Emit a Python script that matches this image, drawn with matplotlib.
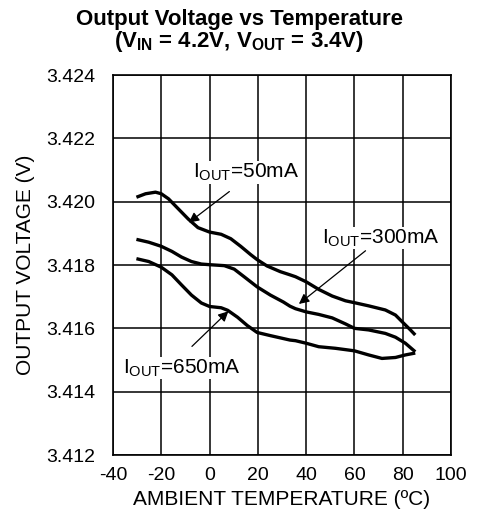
import matplotlib
matplotlib.use("Agg")
import matplotlib.pyplot as plt

plt.rcParams['font.family'] = ['Liberation Sans', 'DejaVu Sans']
plt.rcParams['mathtext.fontset'] = 'custom'
plt.rcParams['mathtext.rm'] = 'Liberation Sans'
plt.rcParams['mathtext.it'] = 'Liberation Sans:italic'
plt.rcParams['mathtext.bf'] = 'Liberation Sans:bold'

# Data
temp_50 = [-30.3, -26.5, -22.4, -20, -17, -12.9, -8.8, -4.8, 0, 4.8, 8.8, 12.9, 17, 19.7, 23.8, 29.3, 33.3,
           35.6, 40, 45.2, 50.8, 56.3, 60, 65.9, 72.8, 77, 80.4, 83.2, 85.2]
vout_50 = [3.42014, 3.42025, 3.4203, 3.42025, 3.42009, 3.41977, 3.41945, 3.41918, 3.41904, 3.41897, 3.41883,
           3.41859, 3.41833, 3.41817, 3.41797, 3.41779, 3.41769,
           3.41763, 3.41747, 3.41723, 3.41702, 3.41687, 3.41681, 3.41671, 3.41658, 3.41642, 3.41616, 3.41595, 3.41579]

temp_300 = [-30.3, -25.2, -20, -15.6, -11.6, -7.5, -3.4, 0, 6.1, 10.2, 14.3, 19.7, 25.2, 30.6, 33.3,
            35.6, 40, 45.2, 50.8, 56.3, 60, 65.9, 72.8, 77, 81.1, 85.2]
vout_300 = [3.41881, 3.41872, 3.41859, 3.41843, 3.41825, 3.41811, 3.41803, 3.41801, 3.41798, 3.41787, 3.41763,
            3.41731, 3.41705, 3.41683, 3.4167,
            3.41662, 3.41652, 3.41644, 3.41633, 3.41614, 3.416, 3.41595, 3.41584, 3.41572, 3.41553, 3.41526]

temp_650 = [-30.3, -25.2, -20, -15.6, -11.6, -7.5, -3.4, 0, 4.8, 7.5, 11.6, 15.6, 19.7, 25.2, 33.3,
            35.6, 40, 45.2, 52.1, 60, 65.9, 71.4, 77, 81.1, 85.2]
vout_650 = [3.4182, 3.41811, 3.41793, 3.41769, 3.41737, 3.41705, 3.4168, 3.41669, 3.41665, 3.41657, 3.41635,
            3.41609, 3.41587, 3.41577, 3.41563,
            3.41561, 3.41553, 3.41542, 3.41537, 3.41529, 3.41516, 3.41505, 3.41508, 3.41516, 3.41522]

xticks = [-40, -20, 0, 20, 40, 60, 80, 100]
yticks = [3.412, 3.414, 3.416, 3.418, 3.420, 3.422, 3.424]

fig = plt.figure(figsize=(4.78, 5.18), dpi=100)
ax = fig.add_axes([0.2364, 0.1216, 0.7071, 0.7336])

for t, v in [(temp_50, vout_50), (temp_300, vout_300), (temp_650, vout_650)]:
    ax.plot(t, v, color='black', linewidth=2.4, solid_capstyle='butt', solid_joinstyle='round', zorder=3)

ax.set_xlim(-40, 100)
ax.set_ylim(3.412, 3.424)
ax.set_xticks(xticks)
ax.set_yticks(yticks)
ax.set_xticklabels([str(x) for x in xticks])
ax.set_yticklabels(['%.3f' % y for y in yticks])
ax.tick_params(length=0, labelsize=14, pad=8.5)
ax.tick_params(axis='y', pad=13)
ax.grid(True, color='black', linewidth=1.1)
for s in ax.spines.values():
    s.set_linewidth(1.2)

ax.set_xlabel('AMBIENT TEMPERATURE (ºC)', fontsize=15, labelpad=4.5)
ax.set_ylabel('OUTPUT VOLTAGE (V)', fontsize=15, labelpad=8)

fig.text(0.501, 0.9517, 'Output Voltage vs Temperature', ha='center', va='baseline',
         fontsize=16, fontweight='bold')
fig.text(0.501, 0.909, r'(V$_{\mathbf{IN}}$ = 4.2V, V$_{\mathbf{OUT}}$ = 3.4V)', ha='center', va='baseline',
         fontsize=16, fontweight='bold')

arrow = dict(arrowstyle='-|>', color='black', lw=0.9, mutation_scale=15, shrinkA=0, shrinkB=0)
lbl = dict(fontsize=15, va='baseline', ha='left',
           bbox=dict(facecolor='white', edgecolor='none', pad=0.5))
ax.annotate('', xy=(-8.6, 3.41934), xytext=(8.2, 3.42032), arrowprops=arrow, zorder=4)
ax.text(-6.87, 3.42075, r'I$_{\mathrm{OUT}}$=50mA', zorder=5, **lbl)
ax.annotate('', xy=(37, 3.41677), xytext=(64.6, 3.41845), arrowprops=arrow, zorder=4)
ax.text(46.4, 3.41868, r'I$_{\mathrm{OUT}}$=300mA', zorder=5, **lbl)
ax.annotate('', xy=(7.8, 3.41654), xytext=(-7.3, 3.41543), arrowprops=arrow, zorder=4)
ax.text(-35.7, 3.41458, r'I$_{\mathrm{OUT}}$=650mA', zorder=5, **lbl)

fig.savefig('out.png', dpi=100)
